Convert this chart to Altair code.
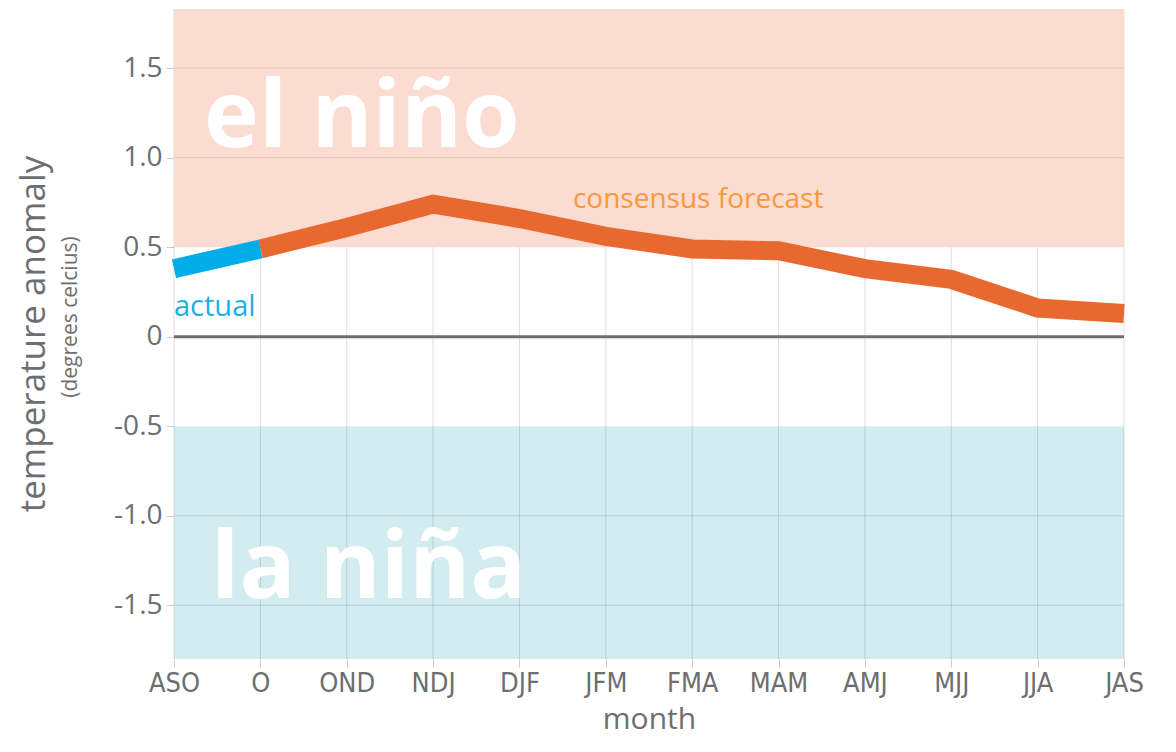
import altair as alt
import pandas as pd

months = ["ASO", "O", "OND", "NDJ", "DJF", "JFM", "FMA", "MAM", "AMJ", "MJJ", "JJA", "JAS"]
actual_months = ["ASO", "O"]
actual_values = [0.38, 0.49]
forecast_months = ["O", "OND", "NDJ", "DJF", "JFM", "FMA", "MAM", "AMJ", "MJJ", "JJA", "JAS"]
forecast_values = [0.49, 0.61, 0.74, 0.66, 0.56, 0.49, 0.48, 0.38, 0.32, 0.16, 0.13]
y_ticks = [-1.5, -1.0, -0.5, 0, 0.5, 1.0, 1.5]
grid_values = [-1.5, -1.0, 1.0, 1.5]
band_lo = [0.5, -1.8]
band_hi = [1.83, -0.5]
band_names = ["el niño", "la niña"]
band_label_values = [1.06, -1.458]
band_colors = ["#fcdcd1", "#d3ecf0"]

W, H = 950, 650
FONT = "Open Sans"
GRAY = "#6d6e71"

xscale = alt.Scale(type="point", domain=months, padding=0)
yscale = alt.Scale(domain=[-1.8, 1.83], nice=False, zero=False)

xaxis = alt.Axis(
    title="month", titleFont=FONT, titleFontSize=30, titleFontWeight="normal",
    titleColor=GRAY, titlePadding=8, labelFont="DejaVu Sans Condensed, Open Sans",
    labelFontSize=27, labelColor=GRAY, labelPadding=3, tickSize=8,
    tickColor="#cccccc", domain=False, grid=False, labelAngle=0,
)
yaxis = alt.Axis(
    title=None, values=y_ticks,
    labelExpr="datum.value == 0 ? '0' : (datum.value < 0 ? '-' : '') + format(abs(datum.value), '.1f')",
    labelFont=FONT, labelFontSize=28, labelColor=GRAY, labelPadding=4, tickSize=8,
    tickColor="#cccccc", domain=False, grid=False,
)

X = alt.X("month:N", scale=xscale, axis=xaxis, sort=months)
Y = alt.Y("value:Q", scale=yscale, axis=yaxis)

bands_df = pd.DataFrame({"lo": band_lo, "hi": band_hi, "name": band_names, "color": band_colors})
base_df = pd.DataFrame({"month": months})
grid_df = pd.DataFrame({"value": grid_values})
actual_df = pd.DataFrame({"month": actual_months, "value": actual_values})
forecast_df = pd.DataFrame({"month": forecast_months, "value": forecast_values})

axes_layer = alt.Chart(base_df).mark_point(opacity=0).encode(
    x=X, y=alt.Y("v:Q", scale=yscale, axis=yaxis)
).transform_calculate(v="0")

blue_band = alt.Chart(bands_df.iloc[[1]]).mark_rect(color=band_colors[1]).encode(
    x=alt.value(0), x2=alt.value(W),
    y=alt.Y("lo:Q", scale=yscale, axis=yaxis), y2="hi:Q",
)
vgrid = alt.Chart(base_df).mark_rule(color="#000000", opacity=0.13, strokeWidth=1).encode(
    x=X, y=alt.value(0), y2=alt.value(H)
)
pink_band = alt.Chart(bands_df.iloc[[0]]).mark_rect(color=band_colors[0]).encode(
    x=alt.value(0), x2=alt.value(W),
    y=alt.Y("lo:Q", scale=yscale, axis=yaxis), y2="hi:Q",
)
hgrid = alt.Chart(grid_df).mark_rule(color="#000000", opacity=0.10, strokeWidth=1).encode(
    y=alt.Y("value:Q", scale=yscale, axis=yaxis), x=alt.value(0), x2=alt.value(W)
)
zero_line = alt.Chart(pd.DataFrame({"value": [0]})).mark_rule(color=GRAY, strokeWidth=3).encode(
    y=alt.Y("value:Q", scale=yscale, axis=yaxis), x=alt.value(0), x2=alt.value(W)
)

nino_text = alt.Chart(pd.DataFrame({"month": ["ASO"], "value": [band_label_values[0]], "label": [band_names[0]]})).mark_text(
    font=FONT, fontSize=93, fontWeight="bold", color="#ffffff", align="left", baseline="alphabetic", dx=30
).encode(x=X, y=Y, text="label:N")
nina_text = alt.Chart(pd.DataFrame({"month": ["ASO"], "value": [band_label_values[1]], "label": [band_names[1]]})).mark_text(
    font=FONT, fontSize=93, fontWeight="bold", color="#ffffff", align="left", baseline="alphabetic", dx=37
).encode(x=X, y=Y, text="label:N")

forecast_line = alt.Chart(forecast_df).mark_line(
    color="#e8692f", strokeWidth=19, strokeCap="butt", strokeJoin="miter"
).encode(x=X, y=Y)
actual_line = alt.Chart(actual_df).mark_line(
    color="#00ade9", strokeWidth=19, strokeCap="butt"
).encode(x=X, y=Y)

actual_text = alt.Chart(pd.DataFrame({"month": ["ASO"], "value": [0.165], "label": ["actual"]})).mark_text(
    font=FONT, fontSize=29, color="#1ab2e6", align="left", baseline="middle"
).encode(x=X, y=Y, text="label:N")
forecast_text = alt.Chart(pd.DataFrame({"month": ["FMA"], "value": [0.765], "label": ["consensus forecast"]})).mark_text(
    font=FONT, fontSize=28, color="#f7993a", align="center", baseline="middle", dx=6
).encode(x=X, y=Y, text="label:N")

ytitle = alt.Chart(pd.DataFrame({"label": ["temperature anomaly"]})).mark_text(
    font=FONT, fontSize=35, color=GRAY, angle=270, align="center", baseline="middle"
).encode(x=alt.value(-140), y=alt.value(325), text="label:N")
ysub = alt.Chart(pd.DataFrame({"label": ["(degrees celcius)"]})).mark_text(
    font=FONT, fontSize=21, color=GRAY, angle=270, align="center", baseline="middle"
).encode(x=alt.value(-103), y=alt.value(308), text="label:N")

chart = alt.layer(
    axes_layer, blue_band, vgrid, pink_band, hgrid, zero_line, nino_text, nina_text,
    forecast_line, actual_line, actual_text, forecast_text, ytitle, ysub,
).properties(
    width=W, height=H, padding={"top": 0, "left": 9, "right": 4, "bottom": 4}
).configure_view(stroke=None)

chart.save("out.html", embed_options={"renderer": "svg", "actions": False})
